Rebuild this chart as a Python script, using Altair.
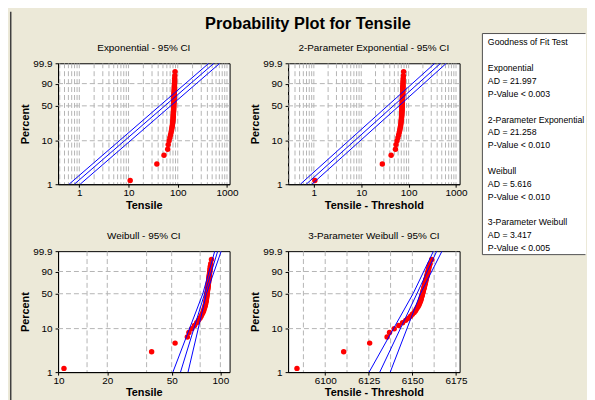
import numpy as np
import pandas as pd
import altair as alt

# ---------------- data ----------------
tensile = [10.8, 37.6, 52.5, 62.5, 63.9, 66.6, 69.2, 71.4, 73.2, 74.8,
           76.0, 77.0, 78.0, 78.7, 79.2, 79.7, 80.2, 80.6, 80.9, 81.2,
           81.5, 81.7, 81.9, 82.1, 82.2, 82.4, 82.5, 82.7, 82.8, 82.9,
           83.1, 83.2, 83.3, 83.5, 83.6, 83.7, 83.9, 84.0, 84.1, 84.2,
           84.4, 84.5, 84.6, 84.7, 84.9, 85.0, 85.2, 85.3, 85.5, 85.6,
           85.8, 86.0, 86.2, 86.4, 86.7, 87.2, 88.1]
percent = [1.22, 2.96, 4.70, 6.45, 8.19, 9.93, 11.67, 13.41, 15.16, 16.90,
           18.64, 20.38, 22.13, 23.87, 25.61, 27.35, 29.09, 30.84, 32.58, 34.32,
           36.06, 37.80, 39.55, 41.29, 43.03, 44.77, 46.52, 48.26, 50.00, 51.74,
           53.48, 55.23, 56.97, 58.71, 60.45, 62.20, 63.94, 65.68, 67.42, 69.16,
           70.91, 72.65, 74.39, 76.13, 77.87, 79.62, 81.36, 83.10, 84.84, 86.59,
           88.33, 90.07, 91.81, 93.55, 95.30, 97.04, 98.78]

threshold_2p = 9.75
threshold_3p = -6073.0

# fitted lines and 95% CI bands (value of x at the given percents)
exp_pct = [1, 99.9]
exp_lower = [0.62, 428]
exp_fit = [0.79, 544]
exp_upper = [1.04, 716]

exp2_pct = [1, 99.9]
exp2_lower = [0.52, 357]
exp2_fit = [0.69, 474]
exp2_upper = [0.91, 625]

wb_pct = [1, 50, 99.9]
wb_lower = [50.9, 77.9, 92.3]
wb_fit = [56.7, 79.9, 96.3]
wb_upper = [63.1, 82.0, 101.2]

wb3_pct = [1, 50, 99.9]
wb3_lower = [6125.2, 6150.4, 6162.1]
wb3_fit = [6131.3, 6152.6, 6164.0]
wb3_upper = [6137.3, 6154.6, 6167.0]

pct_ticks = [1, 10, 50, 90, 99.9]
pct_grid = [10, 50, 90]

legend_lines = ["Goodness of Fit Test", "", "Exponential", "AD = 21.997",
                "P-Value < 0.003", "", "2-Parameter Exponential", "AD = 21.258",
                "P-Value < 0.010", "", "Weibull", "AD = 5.616", "P-Value < 0.010",
                "", "3-Parameter Weibull", "AD = 3.417", "P-Value < 0.005"]

# ---------------- helpers ----------------
FONT = "Liberation Sans"
BG = "#ECE9D8"


def ty(p):
    return [float(v) for v in np.log10(-np.log(1 - np.asarray(p, dtype=float) / 100.0))]


ytick_vals = ty(pct_ticks)
label_expr = " : ".join(
    [f"datum.value < {(ytick_vals[i] + ytick_vals[i + 1]) / 2:.5f} ? '{pct_ticks[i]:g}'" for i in range(len(pct_ticks) - 1)]
) + f" : '{pct_ticks[-1]:g}'"

yscale = alt.Scale(domain=[ytick_vals[0], ytick_vals[-1]], nice=False, zero=False)
yaxis = alt.Axis(values=ytick_vals, labelExpr=label_expr, title="Percent", labelPadding=3)

pts = pd.DataFrame({"tensile": tensile, "pct": percent})
pts["ty"] = ty(pts["pct"])
pts["x1"] = pts["tensile"]
pts["x2"] = pts["tensile"] - threshold_2p
pts["x3"] = pts["tensile"]
pts["x4"] = pts["tensile"] - threshold_3p


def lines_df(pcts, lower, fit, upper):
    rows = []
    for name, vals in (("lower", lower), ("fit", fit), ("upper", upper)):
        for p, v in zip(pcts, vals):
            rows.append({"band": name, "pct": p, "v": v})
    d = pd.DataFrame(rows)
    d["ty"] = ty(d["pct"])
    return d


def panel(title, xtitle, xcol, scale, xvals, xgrid, ldf):
    def X(f):
        return alt.X(f"{f}:Q", scale=scale, title=xtitle,
                     axis=alt.Axis(values=xvals, format="d", title=xtitle, labelPadding=0))

    def Y(f):
        return alt.Y(f"{f}:Q", scale=yscale, axis=yaxis, title="Percent")

    gx = alt.Chart(pd.DataFrame({"g": xgrid})).mark_rule(
        stroke="#b4b4b4", strokeDash=[5, 3], strokeWidth=1, clip=True
    ).encode(x=X("g"))
    gy = alt.Chart(pd.DataFrame({"gy": ty(pct_grid)})).mark_rule(
        stroke="#b4b4b4", strokeDash=[5, 3], strokeWidth=1, clip=True
    ).encode(y=Y("gy"))
    dots = alt.Chart(pts).mark_circle(color="#ff0000", size=30, opacity=1).encode(
        x=X(xcol), y=Y("ty"))
    ln = alt.Chart(ldf).mark_line(color="#0000ff", strokeWidth=1, clip=True).encode(
        x=X("v"), y=Y("ty"), detail="band:N", order="ty:Q")
    return alt.layer(gx, gy, dots, ln).properties(
        width=173, height=122,
        title=alt.TitleParams(title, font=FONT, fontSize=10, fontWeight="normal",
                              color="black", anchor="middle", frame="group", offset=5.5),
    )


grid_log1 = [0.4, 0.5, 0.6, 0.7, 0.8, 0.9, 1, 2, 3, 4, 5, 6, 7, 8, 9,
             10, 20, 30, 40, 50, 60, 70, 80, 90, 100, 200, 300, 400, 500,
             600, 700, 800, 900, 1000]
grid_log2 = [0.3] + grid_log1

p1 = panel("Exponential - 95% CI", "Tensile", "x1",
           alt.Scale(type="log", domain=[0.37, 1130], nice=False),
           [1, 10, 100, 1000], grid_log1,
           lines_df(exp_pct, exp_lower, exp_fit, exp_upper))
p2 = panel("2-Parameter Exponential - 95% CI", "Tensile - Threshold", "x2",
           alt.Scale(type="log", domain=[0.286, 1190], nice=False),
           [1, 10, 100, 1000], grid_log2,
           lines_df(exp2_pct, exp2_lower, exp2_fit, exp2_upper))
p3 = panel("Weibull - 95% CI", "Tensile", "x3",
           alt.Scale(type="log", domain=[9.93, 114], nice=False),
           [10, 20, 50, 100], [15, 20, 35, 50, 75, 100],
           lines_df(wb_pct, wb_lower, wb_fit, wb_upper))
p4 = panel("3-Parameter Weibull - 95% CI", "Tensile - Threshold", "x4",
           alt.Scale(domain=[6078.7, 6177.1], nice=False, zero=False),
           [6100, 6125, 6150, 6175],
           [6087.5, 6100, 6112.5, 6125, 6137.5, 6150, 6162.5, 6175],
           lines_df(wb3_pct, wb3_lower, wb3_fit, wb3_upper))

grid4 = alt.concat(p1, p2, p3, p4, columns=2,
                   spacing=alt.RowColnumber(row=19.5, column=11))

TRANSPARENT = alt.ViewBackground(fill="transparent", stroke="transparent")
one = pd.DataFrame({"a": [0]})

spacer = alt.Chart(one).mark_point(opacity=0).encode(
    x=alt.value(0), y=alt.value(0)
).properties(width=1, height=1, view=TRANSPARENT)

grid_block = alt.vconcat(spacer, grid4, spacing=5)

# goodness-of-fit box (its right side runs off the edge, as in the original)
LW, LH = 104, 223
leg_df = pd.DataFrame({"i": list(range(len(legend_lines))), "t": legend_lines})
leg_text = alt.Chart(leg_df).mark_text(
    align="left", baseline="middle", font=FONT, fontSize=8.8, color="black", clip=True
).encode(
    x=alt.value(5.5),
    y=alt.Y("i:Q", scale=alt.Scale(domain=[-0.694, 16.51], reverse=True, nice=False, zero=False), axis=None),
    text="t:N",
)
border_l = alt.Chart(one).mark_rule(color="#505050").encode(x=alt.value(0), y=alt.value(0), y2=alt.value(LH))
border_t = alt.Chart(one).mark_rule(color="#505050").encode(x=alt.value(0), x2=alt.value(LW), y=alt.value(0))
border_b = alt.Chart(one).mark_rule(color="#505050").encode(x=alt.value(0), x2=alt.value(LW), y=alt.value(LH))
legend = alt.layer(leg_text, border_l, border_t, border_b).properties(
    width=LW, height=LH, view=alt.ViewBackground(fill="white", stroke="transparent"))

# dark frame line along the left edge of the figure
frame = alt.Chart(one).mark_rule(color="#404040", strokeWidth=1.5).encode(
    x=alt.value(0.75), y=alt.value(-22), y2=alt.value(380)
).properties(width=1, height=LH, view=TRANSPARENT)

content = alt.hconcat(grid_block, legend, spacing=13)

chart = alt.hconcat(frame, content, spacing=7.5).properties(
    title=alt.TitleParams("Probability Plot for Tensile", font=FONT, fontSize=16.5,
                          fontWeight="bold", color="black", anchor="middle",
                          offset=-22, dx=10),
    padding={"left": 1, "top": 0, "right": 0, "bottom": 0},
    background=BG,
).configure_view(
    stroke="black", strokeWidth=1, fill="white"
).configure_axis(
    labelFont=FONT, labelFontSize=10, labelColor="black",
    labelFlush=False, labelOverlap=False,
    titleFont=FONT, titleFontSize=11, titleFontWeight="bold", titleColor="black",
    titlePadding=2, domainColor="black", tickColor="black", tickSize=3, grid=False,
)

chart.save("out.html", embed_options={"renderer": "svg", "actions": False})
